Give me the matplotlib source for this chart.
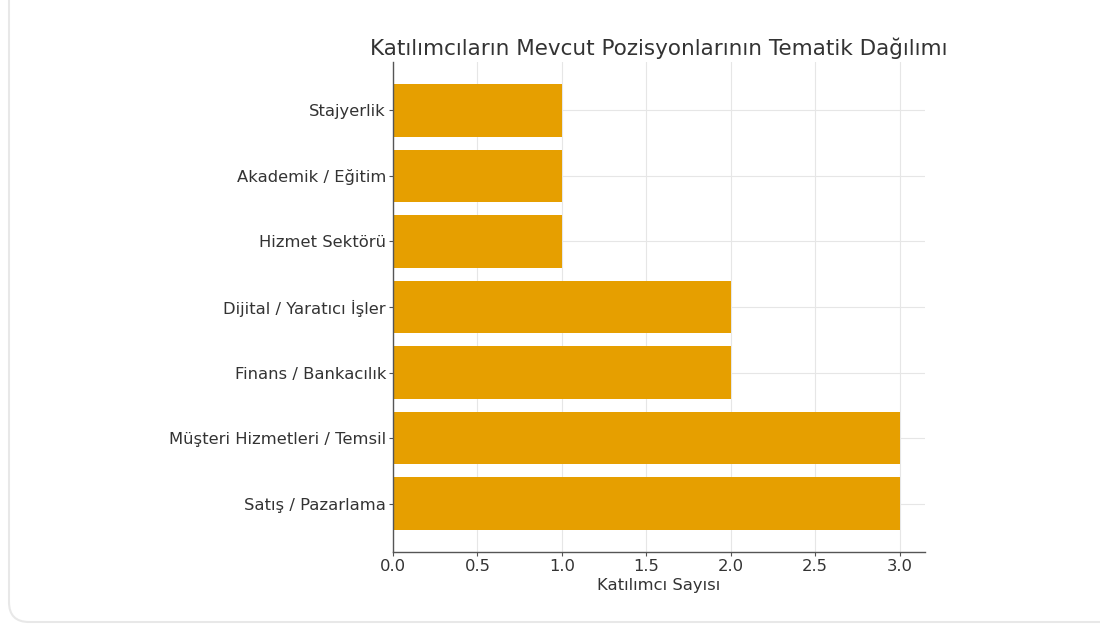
import matplotlib.pyplot as plt
from matplotlib.path import Path
from matplotlib.patches import PathPatch

# categories from bottom to top, as drawn
categories = [
    'Satış / Pazarlama',
    'Müşteri Hizmetleri / Temsil',
    'Finans / Bankacılık',
    'Dijital / Yaratıcı İşler',
    'Hizmet Sektörü',
    'Akademik / Eğitim',
    'Stajyerlik',
]
counts = [3, 3, 2, 2, 1, 1, 1]
xticks = [0.0, 0.5, 1.0, 1.5, 2.0, 2.5, 3.0]

W, H = 1100, 626
fig = plt.figure(figsize=(W / 100, H / 100), dpi=100)

# faint card outline: left edge and bottom edge with one rounded corner (in inches)
x0, y0, r = 0.09, 0.04, 0.2
verts = [(x0, 7.0), (x0, y0 + r), (x0, y0), (x0 + r, y0), (12.0, y0)]
codes = [Path.MOVETO, Path.LINETO, Path.CURVE3, Path.CURVE3, Path.LINETO]
card = PathPatch(Path(verts, codes), transform=fig.dpi_scale_trans, facecolor='none',
                 edgecolor='#e8e8e8', linewidth=1.5, zorder=-1)
fig.patches.append(card)

ax = fig.add_axes([393 / W, 1 - 552 / H, (925 - 393) / W, (552 - 62) / H])
ax.set_facecolor('none')
ax.barh(categories, counts, height=0.8, color='#E69F00', zorder=2)

ax.set_xticks(xticks)
ax.grid(True, color='#e6e6e6', linewidth=0.8, zorder=0)
ax.set_axisbelow(True)
for side in ['top', 'right']:
    ax.spines[side].set_visible(False)
for side in ['left', 'bottom']:
    ax.spines[side].set_color('#555555')
    ax.spines[side].set_linewidth(1.0)

ax.tick_params(axis='both', colors='#555555', labelcolor='#333333', labelsize=11.8,
               length=3, pad=2)
ax.set_xlabel('Katılımcı Sayısı', fontsize=11.8, color='#333333', labelpad=3)
ax.set_title('Katılımcıların Mevcut Pozisyonlarının Tematik Dağılımı', fontsize=15.5,
             color='#333333', pad=5)

fig.savefig('out.png', dpi=100, facecolor='white')
